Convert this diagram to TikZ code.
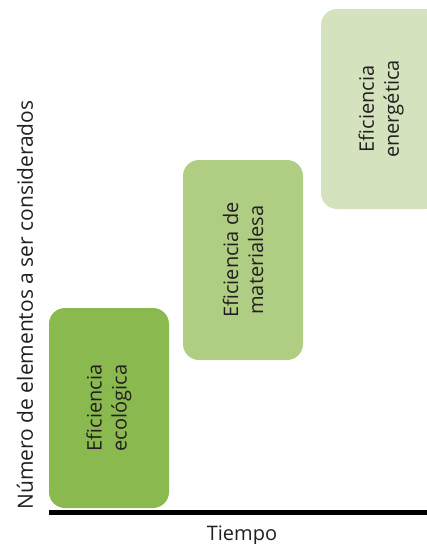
\documentclass[tikz,border=0pt]{standalone}
\usepackage{fontspec}
\setmainfont{Open Sans}
\definecolor{verdeA}{HTML}{8AB950}
\definecolor{verdeB}{HTML}{AFCE84}
\definecolor{verdeC}{HTML}{D4E3BE}
\definecolor{texto}{HTML}{231F20}

\begin{document}
\begin{tikzpicture}[x=1pt,y=-1pt,
	etapa/.style={rotate=90,rounded corners=16pt,minimum width=200pt,minimum height=120pt,inner sep=0,align=center,text=texto,font=\fontsize{20}{25}\selectfont},
	rotulo/.style={text=texto,inner sep=0,font=\fontsize{20}{25}\selectfont}]
	\useasboundingbox (0,0) rectangle (427,544);
	\clip (0,0) rectangle (427,544);
	\node[etapa,fill=verdeA] (eco) at (109,408) {Eficiencia\\ecológica};
	\node[etapa,fill=verdeB] (mat) at (243,260) {Eficiencia de\\materialesa};
	\node[etapa,fill=verdeC] (ene) at (381,109) {Eficiencia\\energética};
	\coordinate (o) at (49,512);
	\coordinate (fin) at (427,512);
	\draw[line width=5pt] (o) -- (fin);
	\node[rotulo,anchor=base] (tiempo) at (242,540) {Tiempo};
	\node[rotulo,rotate=90,font=\fontsize{21}{25}\selectfont] (numero) at (25,305) {Número de elementos a ser considerados};
\end{tikzpicture}
\end{document}
